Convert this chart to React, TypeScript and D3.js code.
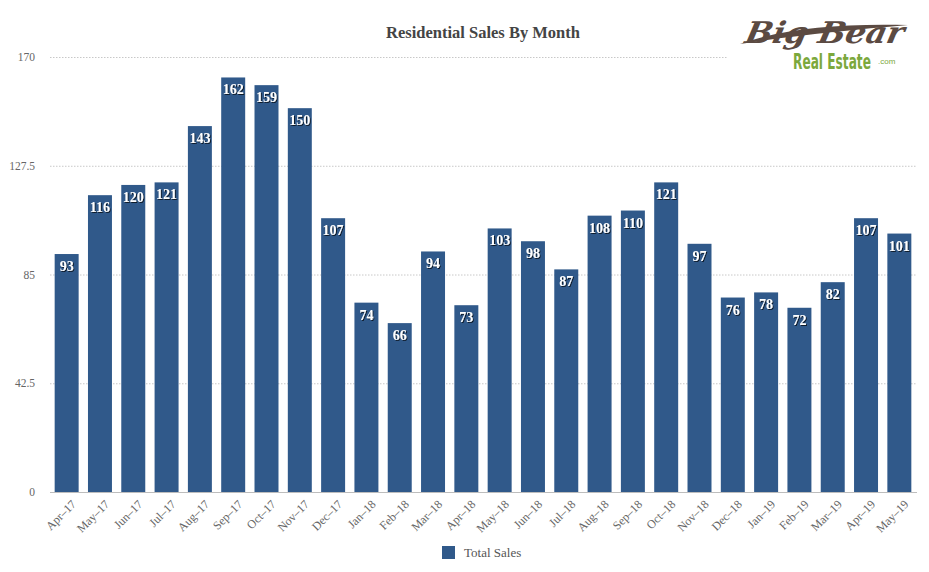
import { useEffect, useRef } from "react";
import * as d3 from "d3";

const months = [
  "Apr–17","May–17","Jun–17","Jul–17","Aug–17","Sep–17","Oct–17","Nov–17","Dec–17",
  "Jan–18","Feb–18","Mar–18","Apr–18","May–18","Jun–18","Jul–18","Aug–18","Sep–18",
  "Oct–18","Nov–18","Dec–18","Jan–19","Feb–19","Mar–19","Apr–19","May–19",
];
const totalSales = [93,116,120,121,143,162,159,150,107,74,66,94,73,103,98,87,108,110,121,97,76,78,72,82,107,101];
const yTicks = [0, 42.5, 85, 127.5, 170];

const BAR = "#30598a";
const FONT = "'Liberation Serif', 'DejaVu Serif', serif";

export default function App() {
  const svgRef = useRef<SVGSVGElement>(null);

  useEffect(() => {
    if (!svgRef.current) return;
    const W = 929, H = 572;
    const svg = d3.select(svgRef.current);
    svg.selectAll("*").remove();
    svg.attr("width", W).attr("height", H);

    const m = { left: 50, right: 13, top: 57, bottom: 80 };
    const x = d3.scaleBand().domain(months).range([m.left, W - m.right]).paddingInner(0.28).paddingOuter(0.14);
    const y = d3.scaleLinear().domain([0, 170]).range([H - m.bottom, m.top]);

    const defs = svg.append("defs");
    const f = defs.append("filter").attr("id", "shadow").attr("x", "-20%").attr("y", "-20%").attr("width", "140%").attr("height", "140%");
    f.append("feDropShadow").attr("dx", 1).attr("dy", 1).attr("stdDeviation", 0.6).attr("flood-color", "#000").attr("flood-opacity", 0.7);

    // gridlines
    svg.append("g").selectAll("line")
      .data(yTicks.filter((t) => t > 0))
      .join("line")
      .attr("x1", m.left).attr("x2", W - m.right)
      .attr("y1", (d) => y(d) + 0.5).attr("y2", (d) => y(d) + 0.5)
      .attr("stroke", "#c8c8c8").attr("stroke-dasharray", "1.5,1.5");

    svg.append("g").selectAll("text")
      .data(yTicks)
      .join("text")
      .attr("x", 35).attr("y", (d) => y(d) + 4)
      .attr("text-anchor", "end")
      .attr("font-family", FONT).attr("font-size", 11.5).attr("fill", "#666")
      .text((d) => String(d));

    // bars
    svg.append("g").selectAll("rect")
      .data(totalSales)
      .join("rect")
      .attr("x", (_, i) => x(months[i])!)
      .attr("width", x.bandwidth())
      .attr("y", (d) => y(d))
      .attr("height", (d) => y(0) - y(d))
      .attr("fill", BAR);

    svg.append("g").selectAll("text")
      .data(totalSales)
      .join("text")
      .attr("x", (_, i) => x(months[i])! + x.bandwidth() / 2)
      .attr("y", (d) => y(d) + 17)
      .attr("text-anchor", "middle")
      .attr("font-family", FONT).attr("font-size", 14).attr("font-weight", 700)
      .attr("fill", "#fff").attr("filter", "url(#shadow)")
      .text((d) => String(d));

    // x axis line
    svg.append("line")
      .attr("x1", m.left).attr("x2", W - m.right + 1)
      .attr("y1", y(0) + 0.5).attr("y2", y(0) + 0.5)
      .attr("stroke", "#bdbdbd").attr("stroke-width", 1);

    svg.append("g").selectAll("text")
      .data(months)
      .join("text")
      .attr("transform", (d) => `translate(${x(d)! + x.bandwidth() / 2 + 10},${y(0) + 13}) rotate(-45)`)
      .attr("text-anchor", "end")
      .attr("font-family", FONT).attr("font-size", 12).attr("fill", "#666")
      .text((d) => d);

    // title
    svg.append("text")
      .attr("x", 483).attr("y", 38)
      .attr("text-anchor", "middle")
      .attr("font-family", FONT).attr("font-size", 16.5).attr("font-weight", 700).attr("fill", "#444")
      .text("Residential Sales By Month");

    // legend
    svg.append("rect").attr("x", 442).attr("y", 546).attr("width", 13).attr("height", 13).attr("fill", BAR);
    svg.append("text")
      .attr("x", 464).attr("y", 557)
      .attr("font-family", FONT).attr("font-size", 13).attr("fill", "#555")
      .text("Total Sales");

    // logo
    const logo = svg.append("g");
    logo.append("rect").attr("x", 728).attr("y", 12).attr("width", 195).attr("height", 62).attr("fill", "#fff");
    logo.append("path")
      .attr("d", "M740,44 C780,29 840,23 908,25 C850,30 790,36 740,44 Z")
      .attr("fill", "#5b4a42");
    logo.append("text")
      .attr("x", 744).attr("y", 43)
      .attr("font-family", "'DejaVu Serif', serif").attr("font-style", "italic").attr("font-weight", 700)
      .attr("font-size", 30).attr("fill", "#5b4a42")
      .attr("textLength", 158).attr("lengthAdjust", "spacingAndGlyphs")
      .attr("transform", "skewX(-12) translate(9,0)")
      .text("Big Bear");
    const re = logo.append("text")
      .attr("x", 0).attr("y", 0)
      .attr("font-family", "'Liberation Sans Narrow', 'DejaVu Sans Condensed', sans-serif")
      .attr("font-weight", 700).attr("font-size", 21)
      .attr("fill", "#7ca83c")
      .text("Real Estate");
    const reW = (re.node() as SVGTextElement).getComputedTextLength() || 78;
    re.attr("transform", `translate(793,69) scale(${78 / reW},1)`);
    logo.append("text")
      .attr("x", 878).attr("y", 64)
      .attr("font-family", "'Liberation Sans', sans-serif").attr("font-size", 8)
      .attr("fill", "#7ca83c")
      .text(".com");
  }, []);

  return (
    <div style={{ margin: -8, width: 929, height: 572, background: "#fff" }}>
      <svg ref={svgRef} style={{ display: "block" }} />
    </div>
  );
}
